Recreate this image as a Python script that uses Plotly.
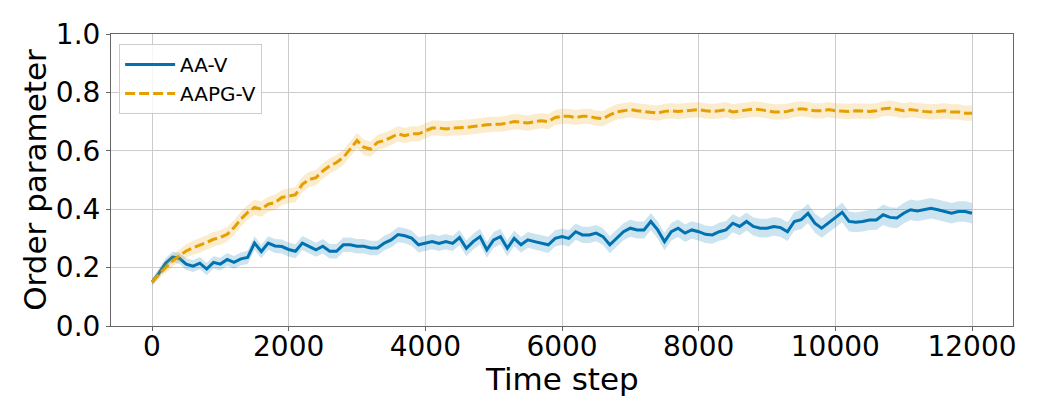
import plotly.graph_objects as go

# time axis (every 100 steps)
steps = list(range(0, 12001, 100))

# AA-V mean order parameter
aa_v = [
    0.150, 0.180, 0.215, 0.236, 0.232, 0.212, 0.205, 0.215, 0.195, 0.218, 0.212,
    0.228, 0.218, 0.230, 0.235, 0.284, 0.255, 0.284, 0.274, 0.272, 0.262,
    0.256, 0.284, 0.273, 0.261, 0.273, 0.256, 0.256, 0.278, 0.278, 0.273,
    0.273, 0.267, 0.267, 0.284, 0.295, 0.313, 0.309, 0.301, 0.278, 0.284,
    0.289, 0.283, 0.289, 0.283, 0.303, 0.266, 0.289, 0.306, 0.261, 0.295,
    0.306, 0.266, 0.300, 0.278, 0.295, 0.289, 0.283, 0.278, 0.300, 0.306,
    0.300, 0.323, 0.312, 0.312, 0.318, 0.306, 0.278, 0.300, 0.323, 0.335,
    0.329, 0.329, 0.358, 0.329, 0.289, 0.323, 0.335, 0.318, 0.329, 0.323,
    0.314, 0.312, 0.323, 0.329, 0.352, 0.341, 0.358, 0.341, 0.335, 0.335,
    0.341, 0.337, 0.323, 0.358, 0.364, 0.386, 0.352, 0.335, 0.352, 0.370,
    0.389, 0.358, 0.355, 0.358, 0.363, 0.363, 0.381, 0.372, 0.370, 0.386,
    0.398, 0.394, 0.398, 0.403, 0.398, 0.392, 0.386, 0.392, 0.392, 0.386,
]

# AAPG-V mean order parameter
aapg_v = [
    0.150, 0.177, 0.200, 0.223, 0.240, 0.257, 0.268, 0.276, 0.286, 0.297, 0.303,
    0.314, 0.337, 0.366, 0.389, 0.406, 0.400, 0.417, 0.423, 0.440, 0.446,
    0.450, 0.485, 0.502, 0.508, 0.531, 0.548, 0.560, 0.577, 0.606, 0.635,
    0.612, 0.606, 0.629, 0.635, 0.646, 0.658, 0.652, 0.658, 0.658, 0.668,
    0.678, 0.678, 0.675, 0.678, 0.678, 0.680, 0.683, 0.687, 0.689, 0.691,
    0.691, 0.695, 0.700, 0.698, 0.695, 0.700, 0.703, 0.700, 0.714, 0.718,
    0.718, 0.714, 0.718, 0.718, 0.712, 0.710, 0.723, 0.733, 0.737, 0.741,
    0.737, 0.735, 0.733, 0.729, 0.735, 0.737, 0.735, 0.737, 0.737, 0.741,
    0.737, 0.735, 0.737, 0.741, 0.733, 0.737, 0.741, 0.743, 0.741, 0.737,
    0.733, 0.733, 0.735, 0.741, 0.744, 0.741, 0.737, 0.737, 0.741, 0.737,
    0.735, 0.735, 0.737, 0.735, 0.735, 0.737, 0.744, 0.746, 0.741, 0.737,
    0.741, 0.737, 0.735, 0.733, 0.735, 0.737, 0.733, 0.733, 0.729, 0.729,
]

# half width of the shaded bands
aa_v_err = [
    0.012, 0.015, 0.017, 0.018, 0.019, 0.020, 0.020, 0.021, 0.021, 0.021, 0.022,
    0.022, 0.022, 0.022, 0.023, 0.023, 0.023, 0.023, 0.024, 0.024, 0.024,
    0.024, 0.024, 0.024, 0.024, 0.025, 0.025, 0.025, 0.025, 0.025, 0.025,
    0.025, 0.025, 0.025, 0.025, 0.025, 0.026, 0.026, 0.026, 0.026, 0.026,
    0.026, 0.026, 0.026, 0.026, 0.026, 0.027, 0.027, 0.027, 0.027, 0.027,
    0.027, 0.027, 0.027, 0.027, 0.027, 0.027, 0.028, 0.028, 0.028, 0.028,
    0.028, 0.028, 0.028, 0.028, 0.028, 0.029, 0.029, 0.029, 0.029, 0.029,
    0.029, 0.029, 0.029, 0.030, 0.030, 0.030, 0.030, 0.030, 0.030, 0.030,
    0.030, 0.030, 0.031, 0.031, 0.031, 0.031, 0.031, 0.031, 0.032, 0.032,
    0.032, 0.032, 0.032, 0.032, 0.033, 0.033, 0.033, 0.033, 0.033, 0.033,
    0.034, 0.034, 0.034, 0.034, 0.034, 0.034, 0.035, 0.035, 0.035, 0.035,
    0.035, 0.035, 0.035, 0.035, 0.035, 0.035, 0.035, 0.035, 0.035, 0.035,
]

aapg_v_err = [
    0.012, 0.015, 0.018, 0.020, 0.022, 0.023, 0.024, 0.025, 0.025, 0.025, 0.025,
    0.025, 0.025, 0.025, 0.025, 0.026, 0.026, 0.026, 0.026, 0.026, 0.026,
    0.026, 0.026, 0.026, 0.026, 0.026, 0.026, 0.026, 0.026, 0.026, 0.026,
    0.026, 0.026, 0.026, 0.026, 0.026, 0.026, 0.026, 0.026, 0.026, 0.026,
    0.026, 0.026, 0.026, 0.026, 0.026, 0.026, 0.026, 0.026, 0.026, 0.026,
    0.026, 0.026, 0.026, 0.026, 0.026, 0.026, 0.026, 0.026, 0.026, 0.026,
    0.026, 0.026, 0.026, 0.026, 0.026, 0.026, 0.026, 0.026, 0.026, 0.026,
    0.026, 0.026, 0.026, 0.026, 0.026, 0.026, 0.026, 0.026, 0.026, 0.026,
    0.026, 0.026, 0.026, 0.026, 0.026, 0.026, 0.026, 0.026, 0.026, 0.026,
    0.026, 0.026, 0.026, 0.026, 0.026, 0.026, 0.026, 0.026, 0.026, 0.026,
    0.026, 0.026, 0.026, 0.026, 0.026, 0.026, 0.026, 0.026, 0.026, 0.026,
    0.026, 0.026, 0.026, 0.026, 0.026, 0.026, 0.026, 0.026, 0.026, 0.026,
]

x_ticks = [0, 2000, 4000, 6000, 8000, 10000, 12000]
y_ticks = [0.0, 0.2, 0.4, 0.6, 0.8, 1.0]

series = [
    ("AA-V", aa_v, aa_v_err, "#0072B2", "rgba(0,114,178,0.2)", "solid"),
    ("AAPG-V", aapg_v, aapg_v_err, "#E69F00", "rgba(230,159,0,0.2)", "10px,4px"),
]

fig = go.Figure()

for name, mean, err, color, fill, dash in series:
    lower = [m - e for m, e in zip(mean, err)]
    upper = [m + e for m, e in zip(mean, err)]
    fig.add_trace(go.Scatter(x=steps, y=lower, mode="lines", line=dict(width=0),
                             showlegend=False, hoverinfo="skip"))
    fig.add_trace(go.Scatter(x=steps, y=upper, mode="lines", line=dict(width=0),
                             fill="tonexty", fillcolor=fill,
                             showlegend=False, hoverinfo="skip"))
    fig.add_trace(go.Scatter(x=steps, y=mean, mode="lines", name=name,
                             line=dict(color=color, width=3, dash=dash)))

axis_common = dict(
    showgrid=True, gridcolor="#cccccc", gridwidth=1,
    showline=True, linecolor="#666666", linewidth=1, mirror=True,
    ticks="outside", ticklen=4, tickcolor="#666666",
    tickfont=dict(size=28, color="black"),
    zeroline=False, automargin=False,
)

fig.update_xaxes(range=[-600, 12600], tickvals=x_ticks, ticktext=[str(v) for v in x_ticks],
                 ticklabelstandoff=-9, **axis_common)
fig.update_yaxes(range=[0, 1.0], tickvals=y_ticks, ticktext=[f"{v:.1f}" for v in y_ticks],
                 title=dict(text="Order parameter", font=dict(size=31, color="black"), standoff=0),
                 **axis_common)

# x title as annotation so it can sit closer to the tick labels
fig.add_annotation(text="Time step", xref="paper", yref="paper", x=0.5, y=-0.18,
                   xanchor="center", yanchor="middle", showarrow=False,
                   font=dict(size=31, color="black"))

# page body has an 8px margin, so the figure is 16px smaller than the window
fig.update_layout(
    width=1030, height=403,
    margin=dict(l=103, r=25, t=26, b=85),
    plot_bgcolor="white", paper_bgcolor="white",
    font=dict(family="DejaVu Sans", color="black"),
    legend=dict(x=0.009, y=0.966, xanchor="left", yanchor="top", traceorder="normal",
                bgcolor="rgba(255,255,255,0.8)", bordercolor="#cccccc", borderwidth=1,
                font=dict(size=20), itemwidth=50),
)

fig.write_html("out.html")
